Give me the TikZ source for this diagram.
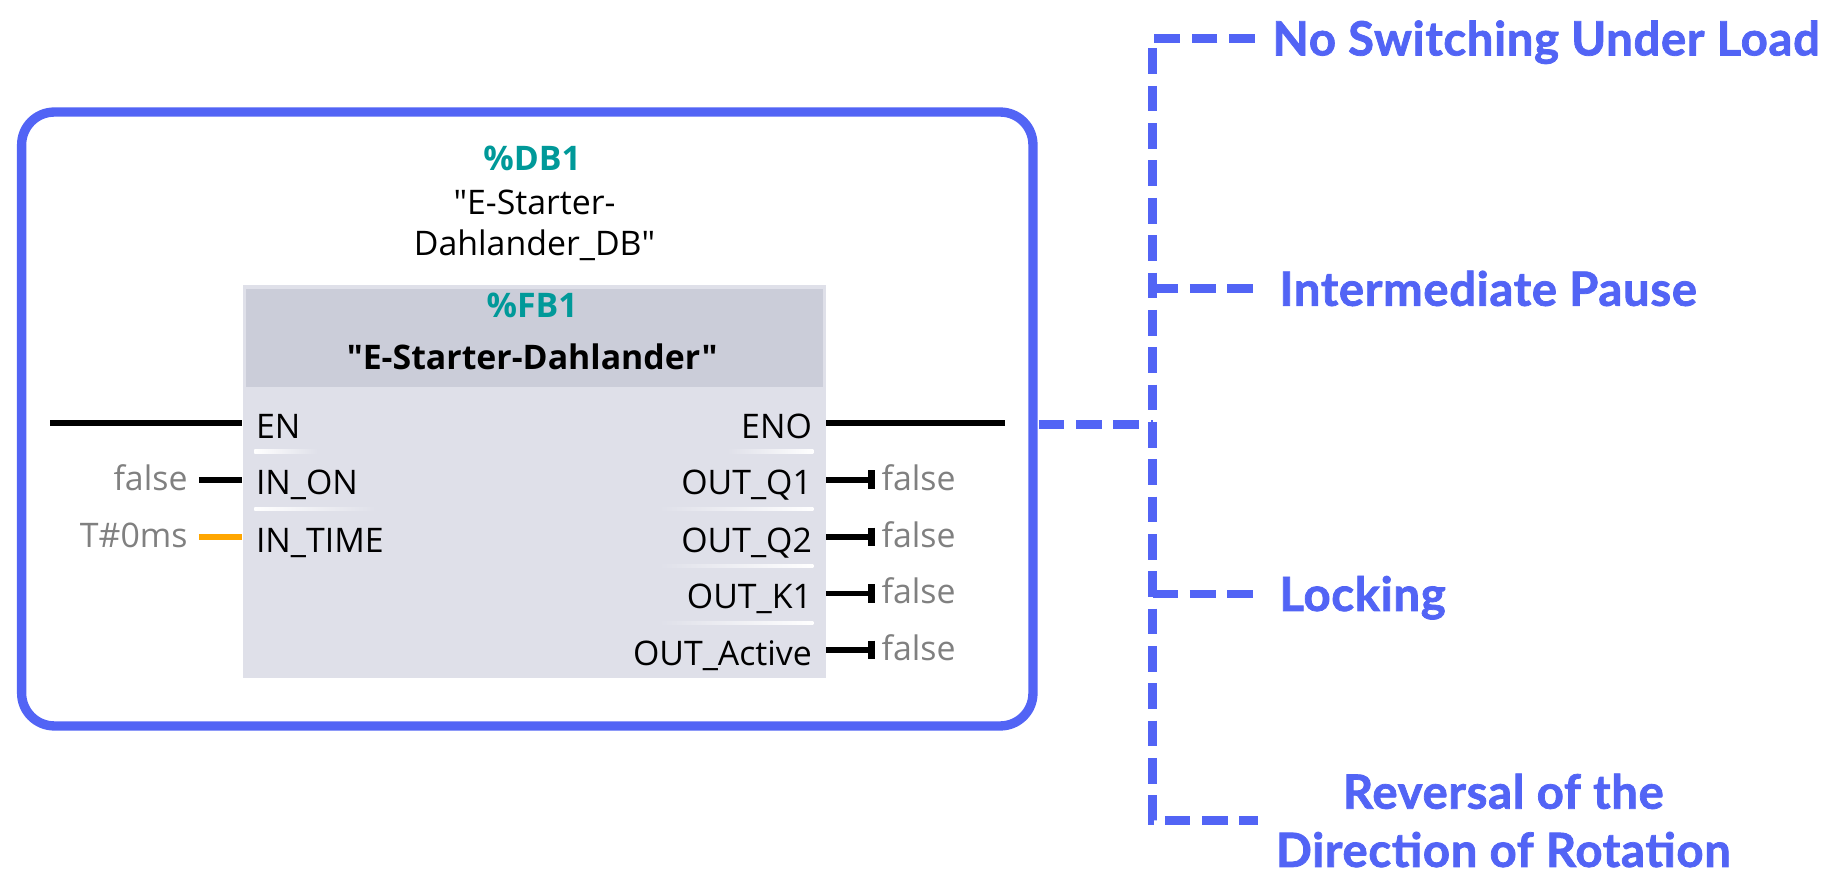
\documentclass[tikz,border=0pt]{standalone}
\usepackage{fontspec}
\setmainfont{Open Sans}[Ligatures=TeXOff]
\newfontfamily\topicfont{Lato}[BoldFeatures={FakeBold=1.6}, LetterSpace=1.5]
\usepackage{xcolor}
\usetikzlibrary{arrows.meta,positioning,calc}

\definecolor{frameblue}{RGB}{82,100,245}
\definecolor{dbteal}{RGB}{0,153,153}
\definecolor{headgray}{RGB}{203,205,217}
\definecolor{bodygray}{RGB}{223,224,233}
\definecolor{valgray}{RGB}{128,128,128}
\definecolor{timeorange}{RGB}{255,166,0}
\newcommand\blockfont{\fontsize{16.5}{19.6}\selectfont}
\newcommand\topicsize{\fontsize{23}{28.4}\selectfont}

\begin{document}
\begin{tikzpicture}[x=0.2mm, y=-0.2mm, inner sep=0pt,
    every node/.style={font=\blockfont},
    pinlabel/.style={text height=5.2mm, text depth=0pt},
    pinvalue/.style={text=valgray, text height=3.6mm, text depth=0pt},
    wire/.style={line width=1mm},
    outwire/.style={line width=1mm, -{Bar[width=3.2mm, line width=1.2mm]}},
    branch/.style={frameblue, line width=1.5mm, dash pattern=on 4.4mm off 2mm},
    topic/.style={font=\topicfont\bfseries\topicsize, text=frameblue, anchor=west},
    topicline/.style={topic, text height=5.8mm, text depth=0pt}]
\useasboundingbox (0,0) rectangle (1568,764);

% instance frame
\node[draw=frameblue, line width=1.6mm, rounded corners=5.6mm,
      minimum width=173.3mm, minimum height=105.2mm] (db) at (451.8,359) {};
\node[text=dbteal, font=\blockfont\bfseries] (dbnum) at (456,136) {\%DB1};
\node[align=center] (dbname) at (458,193) {"E-Starter-\\Dahlander\_DB"};

% function block
\node[fill=bodygray, minimum width=99.9mm, minimum height=67.2mm] (fb) at (457.8,412.5) {};
\node[fill=headgray, minimum width=98.8mm, minimum height=16.9mm, below=0.6mm of fb.north] (fbhead) {};
\node[text=dbteal, font=\blockfont\bfseries] (fbnum) at (456,262) {\%FB1};
\node[font=\blockfont\bfseries] (fbname) at (456,306) {"E-Starter-Dahlander"};

% separators
\shade[left color=white, right color=bodygray] (218,385.5) rectangle (272,388.5);
\shade[left color=white, right color=bodygray] (218,434.5) rectangle (322,437.5);
\shade[left color=bodygray, right color=white] (623,385.5) rectangle (697,388.5);
\shade[left color=bodygray, right color=white] (565,434.5) rectangle (697,437.5);
\shade[left color=bodygray, right color=white] (565,483.5) rectangle (697,486.5);
\shade[left color=bodygray, right color=white] (565,532.5) rectangle (697,535.5);

% inputs
\node[pinlabel, anchor=west] (en) at (219,362.5) {EN};
\node[pinlabel, anchor=west] (inon) at (219,411) {IN\_ON};
\node[pinlabel, anchor=west] (intime) at (219,460) {IN\_TIME};
\node[pinvalue, anchor=east] (von) at (161,411) {false};
\node[pinvalue, anchor=east] (vtime) at (161,460) {T\#0ms};
\coordinate (enfree) at (43,362.5);

\draw[wire] (enfree) -- (en.west -| fb.west);
\draw[wire, shorten <=1.9mm] (von.east) -- (von.east -| fb.west);
\draw[wire, timeorange, shorten <=1.9mm] (vtime.east) -- (vtime.east -| fb.west);

% outputs
\node[pinlabel, anchor=east] (eno) at (696,362.5) {ENO};
\node[pinlabel, anchor=east] (outqa) at (696,411) {OUT\_Q1};
\node[pinlabel, anchor=east] (outqb) at (696,460) {OUT\_Q2};
\node[pinlabel, anchor=east] (outk) at (696,508.5) {OUT\_K1};
\node[pinlabel, anchor=east] (outact) at (696,557) {OUT\_Active};
\node[pinvalue, anchor=west] (vqa) at (755,411) {false};
\node[pinvalue, anchor=west] (vqb) at (755,460) {false};
\node[pinvalue, anchor=west] (vk) at (755,508.5) {false};
\node[pinvalue, anchor=west] (vact) at (755,557) {false};
\coordinate (enofree) at (861,362.5);

\draw[wire] (eno.east -| fb.east) -- (enofree);
\draw[outwire, shorten >=1.1mm] (outqa.east -| fb.east) -- (vqa.west);
\draw[outwire, shorten >=1.1mm] (outqb.east -| fb.east) -- (vqb.west);
\draw[outwire, shorten >=1.1mm] (outk.east -| fb.east) -- (vk.west);
\draw[outwire, shorten >=1.1mm] (outact.east -| fb.east) -- (vact.west);

% features
\coordinate (hub) at (987.5,364);
\node[topicline] (noload) at (1090,33) {No Switching Under Load};
\node[topicline] (pause) at (1096,247.5) {Intermediate Pause};
\node[topicline] (locking) at (1096,509) {Locking};
\node[topic, align=center] (reversal) at (1093,703) {Reversal of the\\Direction of Rotation};

\draw[branch, shorten <=3mm, shorten >=3mm] (noload.west) -| (hub) |- (reversal.west);
\draw[branch, shorten <=0.2mm] (db.east |- hub) -- (hub);
\draw[branch, shorten >=3mm] (hub |- pause.west) -- (pause.west);
\draw[branch, shorten >=3mm] (hub |- locking.west) -- (locking.west);
\end{tikzpicture}
\end{document}
